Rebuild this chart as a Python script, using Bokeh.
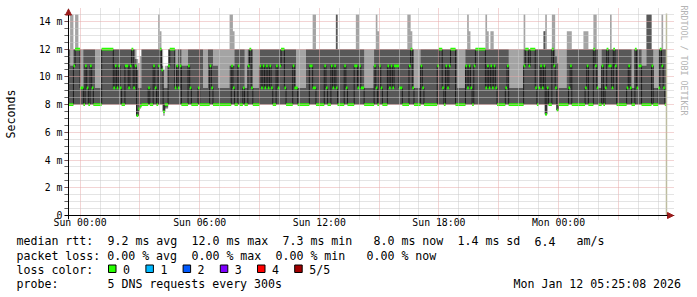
import math
import re
from bokeh.plotting import figure
from bokeh.layouts import column
from bokeh.models import Range1d, FixedTicker, Span, Arrow, NormalHead, Title
from bokeh.core.properties import value
from bokeh.embed import file_html
from bokeh.resources import INLINE

# ---------------- data (values in ms; time in hours relative to Sun 00:00) ----------------
STEP_MIN = 5                      # rrd step, minutes
FIRST_STEP_H = -35 / 60           # Sat 23:25
VIEW_START_H = -(34 + 52 / 60) / 60   # Sat 23:25:08
VIEW_END_H = 29 + 25 / 60 + 8 / 3600  # Mon 05:25:08

# run-length segments: number of 5-minute steps, and the 5 sorted pings (min, 2nd, median, 4th, max)
seg_steps = [1, 2, 1, 2, 1, 2, 1, 1, 1, 1, 1, 1, 1, 4, 7, 1, 1, 1, 1, 1,
             2, 2, 1, 1, 1, 1, 1, 1, 1, 1, 4, 1, 2, 1, 1, 1, 1, 1, 1, 1,
             2, 1, 3, 1, 1, 1, 1, 4, 1, 1, 4, 1, 2, 3, 1, 1, 1, 3, 7, 1,
             1, 1, 2, 1, 2, 1, 2, 1, 1, 1, 4, 1, 1, 1, 1, 1, 1, 1, 1, 2,
             1, 1, 1, 2, 1, 4, 1, 1, 1, 5, 2, 2, 2, 5, 1, 1, 2, 1, 1, 1,
             1, 4, 1, 1, 4, 1, 1, 1, 1, 2, 6, 1, 1, 1, 1, 1, 3, 1, 1, 1,
             1, 3, 2, 3, 1, 1, 1, 1, 4, 1, 1, 8, 1, 2, 1, 1, 1, 1, 1, 3,
             1, 5, 1, 1, 1, 1, 1, 1, 6, 1, 1, 1, 1, 1, 1, 1, 5, 1, 1, 9,
             1, 2, 1, 3, 1, 1, 1, 1, 1, 1, 1, 1, 2, 1, 1, 1, 1, 5, 1, 1,
             1, 7, 1, 1, 1, 3, 1, 1, 1, 2, 1, 1, 1, 1, 1, 1, 1, 1, 1, 6,
             1, 1, 1, 2, 1, 1, 2, 3, 3, 1, 3, 1, 1, 1, 1, 1]

ping_min = [8, 8, 8, 8, 8, 8, 8, 8, 8, 8, 8, 8, 8, 8, 8, 8, 8, 8, 8, 8,
            8, 8, 8, 8, 8, 8, 8, 7.2, 7.5, 7.9, 8, 8, 8, 8, 8, 8, 8, 8, 8, 7.2,
            7.7, 8, 8, 8, 8, 8, 8, 8, 8, 8, 8, 8, 8, 8, 8, 8, 8, 8, 8, 8,
            8, 8, 8, 8, 8, 8, 8, 8, 8, 8, 8, 8, 8, 8, 8, 8, 8, 8, 8, 8,
            8, 8, 8, 8, 8, 8, 8, 8, 8, 8, 8, 8, 8, 8, 8, 8, 8, 8, 8, 8,
            8, 8, 8, 8, 8, 8, 8, 8, 8, 8, 8, 8, 8, 8, 8, 8, 8, 8, 8, 8,
            8, 8, 8, 8, 8, 8, 8, 8, 8, 8, 8, 8, 8, 8, 8, 8, 8, 8, 8, 8,
            8, 8, 8, 8, 8, 8, 8, 8, 8, 8, 8, 8, 8, 8, 8, 8, 8, 8, 8, 8,
            8, 8, 8, 8, 8, 8, 8, 8, 8, 8, 7.3, 8, 8, 8, 8, 8, 7.6, 8, 8, 8,
            8, 8, 8, 8, 8, 8, 8, 8, 8, 8, 8, 8, 8, 8, 8, 8, 8, 8, 8, 8,
            8, 8, 8, 8, 8, 8, 8, 8, 8, 8, 8, 8, 8, 8, 8, 8]

ping_low = [8, 8, 8, 8, 8, 8, 8, 8, 8, 8, 8, 8, 8, 8, 8, 8, 8, 8, 8, 8,
            8, 8, 8, 8, 8, 8, 8, 7.2, 7.7, 7.9, 8, 8, 8, 8, 8, 8, 8, 8, 8, 7.5,
            7.8, 8, 8, 8, 8, 8, 8, 8, 8, 8, 8, 8, 8, 8, 8, 8, 8, 8, 8, 8,
            8, 8, 8, 8, 8, 8, 8, 8, 8, 8, 8, 8, 8, 8, 8, 8, 8, 8, 8, 8,
            8, 8, 8, 8, 8, 8, 8, 8, 8, 8, 8, 8, 8, 8, 8, 8, 8, 8, 8, 8,
            8, 8, 8, 8, 8, 8, 8, 8, 8, 8, 8, 8, 8, 8, 8, 8, 8, 8, 8, 8,
            8, 8, 8, 8, 8, 8, 8, 8, 8, 8, 8, 8, 8, 8, 8, 8, 8, 8, 8, 8,
            8, 8, 8, 8, 8, 8, 8, 8, 8, 8, 8, 8, 8, 8, 8, 8, 8, 8, 8, 8,
            8, 8, 8, 8, 8, 8, 8, 8, 8, 8, 7.3, 8, 8, 8, 8, 8, 7.6, 8, 8, 8,
            8, 8, 8, 8, 8, 8, 8, 8, 8, 8, 8, 8, 8, 8, 8, 8, 8, 8, 8, 8,
            8, 8, 8, 8, 8, 8, 8, 8, 8, 8, 8, 8, 8, 8, 8, 8]

ping_median = [8, 8, 10.8, 12, 12, 9.2, 8, 10.8, 9.2, 8, 10.8, 9.2, 8, 8, 12, 9.2, 10.8, 9.2, 10.8, 9.2,
               8, 10.8, 9.2, 10.8, 12, 9.2, 10.8, 7.2, 7.7, 7.9, 8, 9.2, 8, 10.8, 9.2, 8, 10.8, 12, 10.5, 7.5,
               8, 10.8, 12, 9.2, 10.8, 9.2, 10.8, 8, 10.8, 9.2, 8, 9.2, 8, 8, 8, 10.8, 9.2, 8, 8, 8,
               10.8, 9.2, 8, 10.8, 8, 9.2, 8, 10.8, 12, 9.2, 8, 10.8, 9.2, 10.8, 9.2, 10.8, 9.2, 10.8, 9.2, 8,
               10.8, 9.2, 10.8, 12, 9.2, 8, 10.8, 9.2, 9.2, 8, 8, 10.8, 9.2, 8, 10.8, 9.2, 8, 10.8, 9.2, 10.8,
               9.2, 8, 10.8, 9.2, 8, 10.8, 10.8, 9.2, 10.8, 9.2, 8, 10.8, 9.2, 8, 10.8, 9.2, 8, 10.8, 9.2, 10.8,
               9.2, 10.8, 9.2, 8, 8, 10.8, 12, 9.2, 8, 10.8, 9.2, 8, 10.8, 12, 9.2, 8, 10.8, 9.2, 10.8, 12,
               8, 8, 10.8, 9.2, 10.8, 9.2, 8, 10.8, 12, 9.2, 10.8, 9.2, 10.8, 9.2, 10.8, 9.2, 8, 9.2, 10.8, 8,
               10.8, 12, 10.8, 12, 9.2, 8, 9.2, 10.8, 9.2, 10.8, 7.3, 9.2, 8, 12, 10.8, 9.2, 7.6, 8, 8, 9.2,
               10.8, 8, 8, 9.2, 10.8, 8, 12, 10.8, 9.2, 8, 10.8, 8, 9.2, 12, 10.8, 10.8, 9.2, 12, 10.8, 8,
               9.2, 10.8, 9.2, 8, 12, 9.2, 10.8, 8, 8, 10.8, 8, 9.2, 12, 10.8, 9.2, 8]

ping_high = [12, 10.8, 12, 12, 12, 9.2, 12, 12, 12, 12, 12, 12, 12, 9.2, 12, 12, 12, 12, 12, 12,
             12, 12, 12, 12, 12, 12, 11.3, 10.5, 9.2, 9.2, 12, 12, 12, 12, 12, 12, 12, 12, 10.8, 9.2,
             9.2, 12, 12, 9.2, 10.8, 12, 12, 10.8, 12, 12, 12, 12, 12, 9.2, 12, 12, 12, 10.8, 9.2, 10.8,
             10.8, 10.8, 12, 12, 12, 12, 9.2, 12, 12, 12, 9.2, 12, 12, 12, 12, 12, 12, 12, 12, 12,
             12, 12, 12, 12, 12, 12, 12, 12, 9.2, 9.2, 12, 12, 12, 12, 12, 12, 12, 12, 12, 12,
             14.5, 12, 12, 12, 12, 12, 12, 12, 12, 12, 9.2, 12, 12, 12, 12, 12, 12, 12, 12, 12,
             12, 12, 12, 12, 12, 12, 12, 12, 9.2, 12, 12, 12, 12, 12, 12, 12, 12, 12, 12, 12,
             12, 9.2, 12, 12, 12, 12, 12, 12, 12, 12, 12, 12, 12, 12, 12, 12, 12, 12, 12, 9.2,
             12, 12, 12, 12, 12, 12, 12, 12, 12, 13.3, 12, 12, 12, 12, 12, 11.5, 11, 9.2, 12, 12,
             12, 12, 12, 12, 12, 12, 12, 12, 12, 9.2, 12, 12, 12, 12, 12, 12, 12, 12, 12, 12,
             12, 12, 12, 9.2, 12, 12, 12, 10.8, 14.5, 12, 9.2, 12, 12, 12, 12, 12]

ping_max = [12, 14.5, 12, 14.5, 12, 12, 12, 12, 12, 12, 12, 12, 12, 12, 12, 12, 12, 12, 12, 12,
            12, 12, 12, 12, 12, 12, 12, 11.3, 11, 11.5, 12, 12, 12, 12, 12, 12, 14.5, 13.3, 12, 10.5,
            10.8, 12, 12, 12, 12, 12, 12, 12, 12, 12, 12, 12, 12, 12, 12, 12, 12, 12, 12, 14.5,
            14.5, 13.3, 12, 12, 12, 12, 12, 12, 12, 12, 12, 12, 12, 12, 12, 12, 12, 12, 12, 12,
            12, 12, 12, 12, 12, 12, 12, 12, 12, 12, 12, 12, 14.5, 12, 12, 12, 12, 12, 12, 12,
            14.5, 12, 12, 12, 12, 12, 14.5, 14.5, 12, 12, 12, 12, 14.5, 13.3, 12, 12, 12, 12, 12, 12,
            12, 12, 12, 12, 14.5, 14.5, 13.3, 12, 12, 12, 12, 12, 12, 12, 12, 12, 12, 12, 12, 12,
            12, 12, 12, 14.5, 13.3, 12, 12, 12, 12, 14.5, 13.3, 12, 13.3, 13.3, 12, 12, 12, 12, 12, 12,
            14.5, 12, 12, 12, 12, 12, 12, 12, 12, 13.3, 14.5, 12, 12, 14.5, 14.5, 12, 12, 12, 13.3, 13.3,
            13.3, 12, 13.3, 13.3, 13.3, 12, 14.5, 14.5, 12, 12, 12, 12, 12, 12, 12, 14.5, 12, 12, 12, 12,
            12, 12, 12, 12, 12, 12, 12, 12, 14.5, 12, 12, 12, 12, 14.5, 12, 12]

y_ticks = [0, 2, 4, 6, 8, 10, 12, 14]
y_tick_labels = ["0", "2 m", "4 m", "6 m", "8 m", "10 m", "12 m", "14 m"]
x_label_hours = [0, 6, 12, 18, 24]
x_tick_labels = ["Sun 00:00", "Sun 06:00", "Sun 12:00", "Sun 18:00", "Mon 00:00"]

legend_line1 = "median rtt:  9.2 ms avg  12.0 ms max  7.3 ms min   8.0 ms now  1.4 ms sd  6.4   am/s"
legend_line2 = "packet loss: 0.00 % avg  0.00 % max  0.00 % min   0.00 % now"
legend_line3 = "loss color:"
legend_line4 = "probe:       5 DNS requests every 300s"
stamp = "Mon Jan 12 05:25:08 2026"
loss_labels = ["0", "1", "2", "3", "4", "5/5"]
loss_colors = ["#26ff00", "#00b8ff", "#0059ff", "#7e00ff", "#ff0000", "#a10000"]

assert len(seg_steps) == len(ping_min) == len(ping_low) == len(ping_median) == len(ping_high) == len(ping_max)

# ---------------- build step edges ----------------
step_h = STEP_MIN / 60
edges = [FIRST_STEP_H]
for n in seg_steps:
    edges.append(edges[-1] + n * step_h)

def stepped(vals):
    return list(vals) + [vals[-1]]

MONO = "DejaVu Sans Mono"
PX_PER_H = 20.0      # horizontal scale of the graph
PX_PER_MS = 13.86    # vertical scale of the graph
# frame is a little larger than the graph so that the axis arrows are not clipped
FRAME_L, FRAME_R, FRAME_T, FRAME_B = 62, 674, 8, 219
AXIS_X, AXIS_Y = 66, 215
GRAPH_TOP = 13
x_lo = VIEW_START_H - (AXIS_X - FRAME_L) / PX_PER_H
x_hi = VIEW_START_H + (FRAME_R - AXIS_X) / PX_PER_H
y_lo = -(FRAME_B - AXIS_Y) / PX_PER_MS
y_hi = (AXIS_Y - FRAME_T) / PX_PER_MS
graph_top_ms = (AXIS_Y - GRAPH_TOP) / PX_PER_MS

p = figure(width=697, height=234, x_range=Range1d(x_lo, x_hi), y_range=Range1d(y_lo, y_hi),
           output_backend="svg", toolbar_location=None,
           min_border_left=FRAME_L, min_border_right=697 - FRAME_R,
           min_border_top=FRAME_T, min_border_bottom=234 - FRAME_B)
p.frame_align = False
p.outline_line_color = None
p.background_fill_color = "white"
p.border_fill_color = "white"

LIGHT = "#a4a4a4"
DARK = "#585858"

p.varea_step(x=edges, y1=stepped(ping_min), y2=stepped(ping_max), step_mode="after",
             fill_color=LIGHT)
p.varea_step(x=edges, y1=stepped(ping_low), y2=stepped(ping_high), step_mode="after",
             fill_color=DARK)
p.step(x=edges, y=stepped(ping_median), mode="after", line_color="#1c1c1c", line_width=1)
tick_h = 0.1
p.varea_step(x=edges, y1=[m - tick_h for m in stepped(ping_median)],
             y2=[m + tick_h for m in stepped(ping_median)], step_mode="after",
             fill_color=loss_colors[0])

# axes (lines drawn with spans at the true axis positions)
p.yaxis.ticker = FixedTicker(ticks=y_ticks,
                             minor_ticks=[t / 2 for t in range(1, 30) if t % 4 != 0])
p.yaxis.major_label_overrides = dict(zip(y_ticks, y_tick_labels))
p.xaxis.ticker = FixedTicker(ticks=x_label_hours, minor_ticks=[])
p.xaxis.major_label_overrides = dict(zip(x_label_hours, x_tick_labels))
for ax in (p.xaxis, p.yaxis):
    ax.major_label_text_font = MONO
    ax.major_label_text_font_size = "9.8px"
    ax.major_label_text_color = "black"
    ax.axis_line_color = None
    ax.major_tick_out = 0
    ax.minor_tick_out = 0
p.yaxis.major_tick_in = 4
p.yaxis.minor_tick_in = 4
p.yaxis.major_tick_line_color = "black"
p.yaxis.minor_tick_line_color = "black"
p.yaxis.major_label_standoff = 2
p.xaxis.major_tick_in = 0
p.xaxis.minor_tick_in = 0
p.xaxis.major_tick_line_color = None
p.xaxis.minor_tick_line_color = None
p.xaxis.major_label_standoff = -3
p.yaxis.axis_label = "Seconds"
p.yaxis.axis_label_text_font = MONO
p.yaxis.axis_label_text_font_size = "11.6px"
p.yaxis.axis_label_text_font_style = "normal"
p.yaxis.axis_label_text_color = "black"
p.yaxis.axis_label_standoff = 18

p.add_layout(Title(text="RRDTOOL / TOBI OETIKER", align="left", offset=-3, standoff=9,
                   text_font=MONO, text_font_size="8.3px", text_font_style="normal",
                   text_color="#b4b4b4"), "right")

PINK = "#e6a8a8"
GREY = "#c8c8c8"
p.xgrid.ticker = FixedTicker(ticks=list(range(0, 30, 3)),
                             minor_ticks=[h for h in range(0, 30) if h % 3])
for g in (p.xgrid, p.ygrid):
    g.grid_line_color = PINK
    g.grid_line_dash = "1 1"
    g.minor_grid_line_color = GREY
    g.minor_grid_line_dash = "1 1"
    g.level = "overlay"

# now marker
p.segment(x0=[edges[-1]], y0=[0], x1=[edges[-1]], y1=[graph_top_ms],
          line_color="#bdbd9f", line_width=1.5, level="overlay")
# axis lines
p.add_layout(Span(location=VIEW_START_H, dimension="height", line_color="black",
                  line_width=1, level="overlay"))
p.add_layout(Span(location=0, dimension="width", line_color="black",
                  line_width=1, level="overlay"))

# axis arrows
ARROW = "#9b1c1c"
p.add_layout(Arrow(end=NormalHead(size=6, fill_color=ARROW, line_color=ARROW),
                   x_start=VIEW_START_H, y_start=y_hi - 0.6, x_end=VIEW_START_H,
                   y_end=y_hi - 0.04, line_color="black", line_width=1, level="overlay"))
p.add_layout(Arrow(end=NormalHead(size=6, fill_color=ARROW, line_color=ARROW),
                   x_start=x_hi - 0.6, y_start=0, x_end=x_hi - 0.05, y_end=0,
                   line_color="black", line_width=1, level="overlay"))

# ---------------- legend panel ----------------
q = figure(width=697, height=63, x_range=Range1d(0, 697), y_range=Range1d(297, 234),
           output_backend="svg", toolbar_location=None, min_border=0,
           x_axis_type=None, y_axis_type=None)
q.frame_align = False
q.outline_line_color = None
q.background_fill_color = "white"
q.border_fill_color = "white"

CHAR_W = 7.0
TEXT_X0 = 16

def tokens(line):
    """pieces of a monospace line separated by runs of 2+ spaces, with their column."""
    return [(m.start(), m.group(0)) for m in re.finditer(r"\S+(?: \S+)*", line)]

tx, ty, tt = [], [], []
for line, yy in ((legend_line1, 240.8), (legend_line2, 255), (legend_line3, 269),
                 (legend_line4, 283.5)):
    for col, tok in tokens(line):
        tx.append(TEXT_X0 + col * CHAR_W)
        ty.append(yy)
        tt.append(tok)
tx.append(TEXT_X0 + 71 * CHAR_W)
ty.append(283.5)
tt.append(stamp)

q.text(x=tx, y=ty, text=tt, text_font=value(MONO), text_font_size=value("11.6px"),
       text_baseline="middle", text_align="left", text_color="black")
box_left = [108, 145.4, 182.6, 219.8, 257, 294.2]
q.quad(left=box_left, right=[b + 7.5 for b in box_left], top=264.5, bottom=272,
       fill_color=loss_colors, line_color="black", line_width=1)
q.text(x=[b + 14.5 for b in box_left], y=269, text=loss_labels,
       text_font=value(MONO), text_font_size=value("11.6px"), text_baseline="middle",
       text_align="left", text_color="black")

layout = column(p, q, spacing=0)
open("out.html", "w").write(file_html(layout, INLINE))
